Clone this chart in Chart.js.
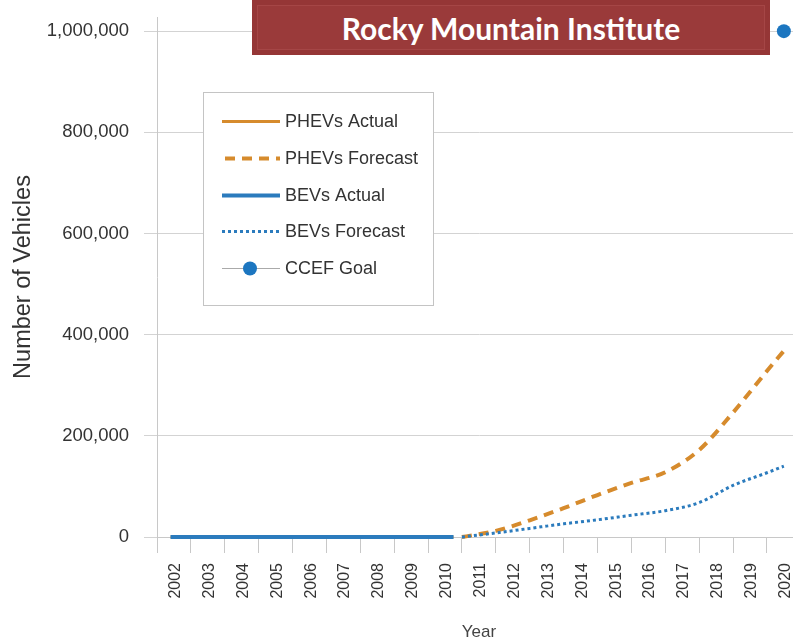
<!DOCTYPE html>
<html>
<head>
<meta charset="utf-8">
<script src="https://cdn.jsdelivr.net/npm/chart.js@4.4.1/dist/chart.umd.min.js"></script>
<style>
  html, body { margin: 0; padding: 0; background: #fff; overflow: hidden; }
  #frame { position: relative; width: 793px; height: 643px; overflow: hidden; }
  #wrap { position: absolute; left: 0; top: 0; width: 830px; height: 643px; }
  .banner {
    position: absolute; left: 252px; top: 0; width: 518px; height: 55px;
    background: #9a3a3a;
    box-shadow: inset 0 0 0 5px #953636, inset 0 0 0 6px #a54646;
    color: #fff; font: bold 30px Lato, "Open Sans", sans-serif;
    display: flex; align-items: center; justify-content: center;
  }
</style>
</head>
<body>
<div id="frame">
  <div id="wrap"><canvas id="evChart"></canvas></div>
  <div class="banner">Rocky Mountain Institute</div>
</div>
<script>
// Data
const yearLabels = ['2002', '2003', '2004', '2005', '2006', '2007', '2008', '2009', '2010',
  '2011', '2012', '2013', '2014', '2015', '2016', '2017', '2018', '2019', '2020'];
const yTicks = [0, 200000, 400000, 600000, 800000, 1000000];

const actualYears = [2002.4, 2003, 2004, 2005, 2006, 2007, 2008, 2009, 2010, 2010.75];
const phevActual = [0, 0, 0, 0, 0, 0, 0, 0, 0, 0];
const bevActual = [0, 0, 0, 0, 0, 0, 0, 0, 0, 0];

const forecastYears = [2011, 2012, 2013, 2014, 2015, 2016, 2017, 2018, 2019, 2020, 2020.5];
const phevForecast = [0, 12000, 33000, 57000, 83000, 107000, 128000, 172000, 246000, 328000, 368000];
const bevForecast = [0, 8000, 17000, 26000, 34000, 43000, 52000, 68000, 102000, 127000, 140000];

const goalYears = [2020.5];
const goalValues = [1000000];

const ORANGE = '#d68b2d';
const BLUE = '#2b7bbd';
const TEXT = '#333';

Chart.defaults.font.family = '"Liberation Sans", Arial, sans-serif';

const pts = (xs, ys) => xs.map((x, i) => ({ x: x, y: ys[i] }));

// year boundaries carry the tick marks, bin centres carry the labels
const xTickValues = [];
yearLabels.forEach(l => { xTickValues.push(+l, +l + 0.55); });
xTickValues.push(+yearLabels[yearLabels.length - 1] + 1);

// hand-drawn legend box like the original
const legendBox = {
  id: 'legendBox',
  afterDatasetsDraw(chart) {
    const ctx = chart.ctx;
    ctx.save();
    ctx.fillStyle = '#fff';
    ctx.strokeStyle = '#c4c4c4';
    ctx.lineWidth = 1;
    ctx.fillRect(203.5, 92.5, 230, 213);
    ctx.strokeRect(203.5, 92.5, 230, 213);
    ctx.font = '18px "Liberation Sans", Arial, sans-serif';
    ctx.textBaseline = 'middle';
    chart.data.datasets.forEach((ds, i) => {
      const y = Math.round(121 + i * 36.8) + 0.5;
      ctx.save();
      if (ds.showLine === false) {
        ctx.strokeStyle = '#aaa';
        ctx.lineWidth = 1;
        ctx.beginPath(); ctx.moveTo(222, y); ctx.lineTo(280, y); ctx.stroke();
        ctx.fillStyle = ds.backgroundColor;
        ctx.beginPath(); ctx.arc(250, y, 7, 0, Math.PI * 2); ctx.fill();
      } else {
        ctx.strokeStyle = ds.borderColor;
        ctx.lineWidth = ds.borderWidth;
        ctx.setLineDash(ds.borderDash || []);
        if (ds.borderDash && ds.borderDash[0] > 5) ctx.lineDashOffset = 14;
        ctx.beginPath(); ctx.moveTo(222, y); ctx.lineTo(280, y); ctx.stroke();
      }
      ctx.restore();
      ctx.fillStyle = TEXT;
      ctx.fillText(ds.label, 285, y + 1);
    });
    ctx.restore();
  }
};

new Chart(document.getElementById('evChart'), {
  type: 'line',
  data: {
    datasets: [
      { label: 'PHEVs Actual', data: pts(actualYears, phevActual), borderColor: ORANGE, borderWidth: 3, pointRadius: 0, clip: 6, order: 2 },
      { label: 'PHEVs Forecast', data: pts(forecastYears, phevForecast), borderColor: ORANGE, borderWidth: 4, borderDash: [10, 7], pointRadius: 0, cubicInterpolationMode: 'monotone', clip: 6, order: 1 },
      { label: 'BEVs Actual', data: pts(actualYears, bevActual), borderColor: BLUE, borderWidth: 4, pointRadius: 0, clip: 6, order: 0 },
      { label: 'BEVs Forecast', data: pts(forecastYears, bevForecast), borderColor: BLUE, borderWidth: 3, borderDash: [3, 3], pointRadius: 0, cubicInterpolationMode: 'monotone', clip: 6, order: 0 },
      { label: 'CCEF Goal', data: pts(goalYears, goalValues), showLine: false, pointRadius: 7, backgroundColor: '#1c76c0', borderColor: '#1c76c0', borderWidth: 0, clip: false, order: 0 }
    ]
  },
  options: {
    responsive: true,
    maintainAspectRatio: false,
    animation: false,
    layout: { padding: { top: 17, right: 8, left: 0, bottom: 0 } },
    plugins: { legend: { display: false }, tooltip: { enabled: false } },
    scales: {
      x: {
        type: 'linear',
        min: 2002,
        max: 2021,
        afterBuildTicks: axis => { axis.ticks = xTickValues.map(v => ({ value: v })); },
        afterFit: s => { s.height = 106; },
        grid: {
          drawOnChartArea: false,
          tickLength: 16,
          color: c => (c.tick && Number.isInteger(c.tick.value)) ? '#c8c8c8' : 'rgba(0,0,0,0)'
        },
        border: { color: '#c8c8c8' },
        ticks: {
          autoSkip: false,
          minRotation: 90,
          maxRotation: 90,
          padding: 10,
          color: TEXT,
          font: { size: 16 },
          callback: v => Number.isInteger(v) ? '' : String(Math.floor(v))
        },
        title: { display: true, text: 'Year', color: '#444', font: { size: 17 }, padding: { top: 0, bottom: 0 } }
      },
      y: {
        min: 0,
        max: 1028000,
        afterBuildTicks: axis => { axis.ticks = yTicks.map(v => ({ value: v })); },
        afterFit: s => { s.width = 157; s.paddingTop = 0; s.paddingBottom = 0; },
        grid: { color: '#d3d3d3', tickLength: 13 },
        border: { color: '#c8c8c8' },
        ticks: { padding: 15, color: TEXT, font: { size: 18.5 }, callback: v => v.toLocaleString('en-US') },
        title: { display: true, text: 'Number of Vehicles', color: '#333', font: { size: 23.5 }, padding: { top: 9, bottom: 0 } }
      }
    }
  },
  plugins: [legendBox]
});
</script>
</body>
</html>
